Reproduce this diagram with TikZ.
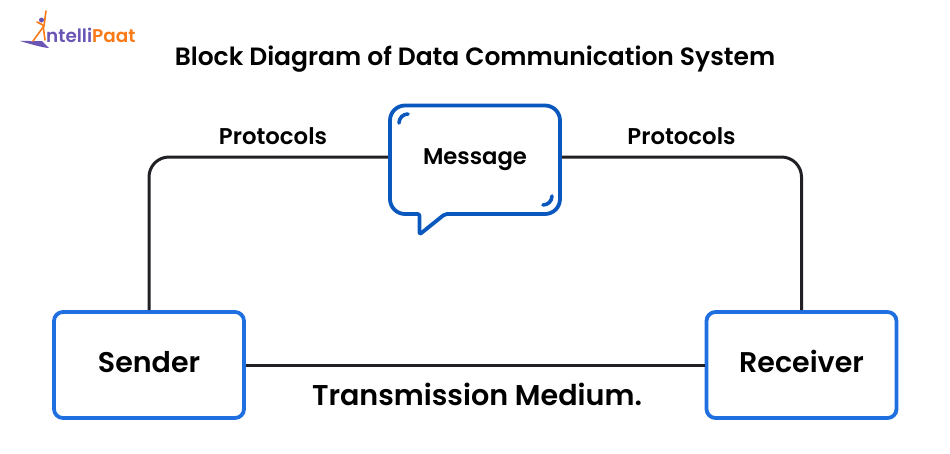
\documentclass[tikz,border=0pt]{standalone}
\usepackage{fontspec}
\setmainfont{Poppins}[BoldFont=Poppins SemiBold]
\usetikzlibrary{calc}
\definecolor{boxblue}{HTML}{1F6FE0}
\definecolor{bubblue}{HTML}{0A58BE}
\definecolor{wiregray}{HTML}{222024}
\definecolor{logopurple}{HTML}{6A55B5}
\definecolor{logoorange}{HTML}{F97A16}
\newcommand*{\boxwd}{190pt}
\newcommand*{\boxht}{106pt}
\tikzset{
    endbox/.style={draw=boxblue, line width=3.8pt, rounded corners=9pt, fill=white, minimum width=\boxwd, minimum height=\boxht, inner sep=0pt, text height=20pt, text depth=4.6pt, font=\bfseries\fontsize{28.5}{32}\selectfont},
    wire/.style={draw=wiregray, line width=3pt, rounded corners=20pt},
    lbl/.style={inner sep=0pt, font=\bfseries\fontsize{22.8}{26}\selectfont}
}

\begin{document}
\begin{tikzpicture}[x=1pt,y=1pt]
    \useasboundingbox (0,0) rectangle (950,-453);
    \fill [white] (0,0) rectangle (950,-453);
    % speech bubble
    \draw [bubblue, line width=3.8pt, line join=round, fill=white, rounded corners=15pt] (390,-105.5) -- (560,-105.5) -- (560,-214) -- (500,-214) [rounded corners=2pt] -- (445,-214) -- (419.5,-234.5) -- (419.5,-214) -- (410,-214) [rounded corners=15pt] -- (390,-214) -- cycle;
    \draw [bubblue, line width=3.6pt, line cap=round] (399,-123) arc (180:90:9pt);
    \draw [bubblue, line width=3.6pt, line cap=round] (552,-196) arc (0:-90:9pt);
    % boxes
    \node [endbox] (sender) at (149,-365) {Sender};
    \node [endbox] (receiver) at (801.5,-365) {Receiver};
    \node [minimum width=174pt, minimum height=20pt, inner sep=0pt, text height=18pt, text depth=4pt, font=\bfseries\fontsize{22.7}{26}\selectfont] (message) at (475,-157) {Message};
    % connectors
    \draw [wire] (sender.north) |- (message.west);
    \draw [wire] (message.east) -| (receiver.north);
    \draw [wire, rounded corners=0pt] (sender.east) -- (receiver.west);
    % labels
    \node [lbl] (protoleft) at (273,-136) {Protocols};
    \node [lbl] (protoright) at (681.5,-136) {Protocols};
    \node [inner sep=0pt, font=\bfseries\fontsize{28.6}{32}\selectfont] (medium) at (477,-394.5) {Transmission Medium.};
    \node [inner sep=0pt, font=\bfseries\fontsize{25}{30}\selectfont] (title) at (475,-59) {Block Diagram of Data Communication System};
    % logo
    \node [inner sep=0pt, anchor=west, font=\bfseries\fontsize{18.4}{22}\selectfont] (logo) at (46,-35) {\textcolor{logopurple}{ntelli}\textcolor{logoorange}{Paat}};
    \fill [logopurple] (20,-41) .. controls (30,-40) and (40,-42) .. (49,-48) .. controls (44,-48) and (30,-44) .. cycle;
    \fill [logopurple] (30,-41) .. controls (36,-42) and (44,-46) .. (49,-48) -- (42,-41) -- cycle;
    \draw [logoorange, line width=1.6pt, line cap=round] (46,-11) -- (44,-26) -- (33,-41);
    \draw [logoorange, line width=1.6pt, line cap=round] (37,-22) -- (43,-25) -- (45,-40);
    \fill [logopurple] (41.5,-20) circle (2.5pt);
\end{tikzpicture}
\end{document}
